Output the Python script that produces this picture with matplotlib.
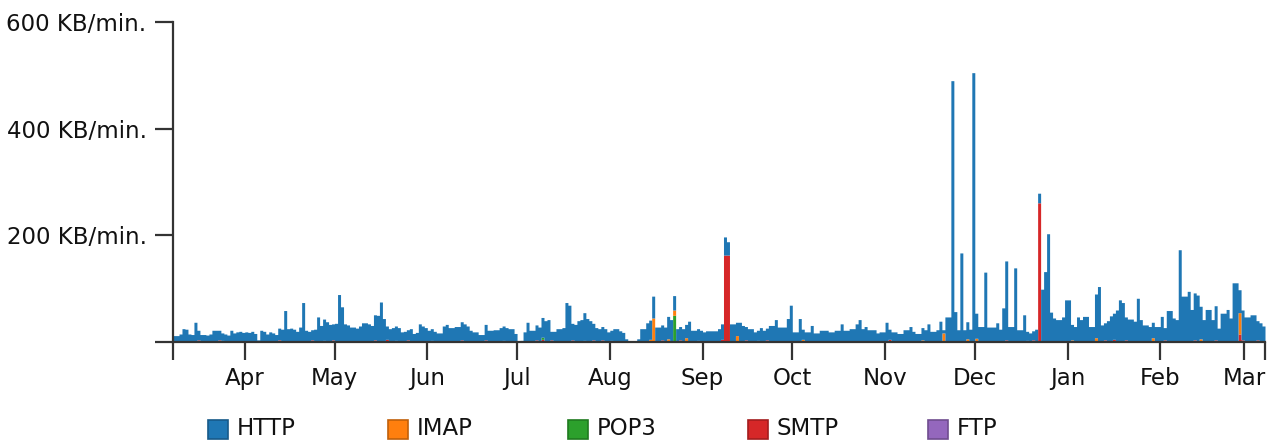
import datetime as dt

import matplotlib

matplotlib.use("Agg")
import matplotlib.dates as mdates
import matplotlib.pyplot as plt
import numpy as np
from matplotlib.patches import Rectangle

start = dt.date(2012, 3, 8)

# HTTP traffic per day (KB/min.), one value per day from start
http = [
    12, 12, 15, 25, 24, 15, 14, 37, 18, 14,
    14, 13, 15, 22, 22, 18, 14, 15, 13, 22,
    17, 19, 20, 18, 19, 18, 20, 16, 4, 22,
    20, 15, 19, 17, 14, 22, 24, 59, 25, 26,
    24, 20, 28, 74, 22, 20, 19, 24, 47, 31,
    40, 38, 33, 30, 35, 89, 66, 34, 32, 28,
    28, 26, 30, 36, 36, 34, 31, 47, 50, 75,
    44, 25, 25, 27, 27, 27, 19, 20, 19, 25,
    16, 18, 34, 30, 27, 22, 22, 20, 17, 17,
    30, 33, 27, 27, 29, 29, 34, 34, 30, 22,
    19, 19, 14, 14, 29, 22, 22, 23, 23, 27,
    27, 27, 25, 25, 16, 2, 3, 19, 37, 22,
    22, 28, 28, 37, 40, 42, 16, 20, 25, 25,
    27, 74, 69, 31, 33, 40, 42, 52, 44, 40,
    31, 27, 25, 25, 25, 19, 19, 25, 25, 21,
    18, 6, 1, 1, 1, 6, 25, 25, 36, 36,
    41, 28, 28, 28, 28, 42, 42, 27, 25, 25,
    25, 25, 39, 22, 22, 22, 22, 19, 21, 21,
    21, 21, 25, 29, 34, 25, 34, 34, 25, 37,
    31, 25, 25, 25, 19, 19, 27, 22, 22, 31,
    31, 42, 28, 28, 28, 44, 69, 19, 19, 44,
    19, 19, 19, 31, 17, 17, 22, 22, 22, 19,
    19, 22, 22, 34, 22, 22, 25, 25, 34, 42,
    25, 29, 23, 23, 23, 17, 19, 19, 37, 19,
    19, 19, 16, 16, 23, 23, 29, 20, 16, 16,
    23, 23, 34, 20, 20, 23, 39, 6, 47, 47,
    490, 57, 23, 167, 23, 32, 24, 505, 47, 29,
    29, 131, 28, 28, 28, 36, 24, 64, 148, 29,
    29, 139, 23, 23, 51, 17, 17, 17, 24, 18,
    99, 132, 203, 56, 45, 42, 42, 47, 79, 79,
    29, 29, 47, 42, 48, 48, 29, 29, 82, 104,
    32, 32, 40, 49, 49, 60, 79, 74, 43, 43,
    43, 39, 82, 42, 32, 32, 29, 29, 29, 29,
    48, 23, 59, 59, 45, 42, 173, 86, 86, 95,
    61, 88, 88, 61, 42, 61, 61, 42, 64, 26,
    54, 54, 61, 45, 111, 111, 43, 56, 47, 47,
    51, 51, 36, 36, 30,
]

# sparse series: day offsets and values
imap_days = [159, 160, 165, 167, 171, 188, 210, 250, 257, 265, 268, 300, 308, 327, 343, 356]
imap_vals = [5, 45, 6, 10, 8, 12, 5, 4, 17, 6, 7, 4, 8, 8, 6, 40]
pop3_days = [123, 167]
pop3_vals = [4, 50]
smtp_days = [8, 15, 16, 35, 46, 50, 53, 67, 71, 74, 78, 86, 96, 104, 110, 121, 123,
             126, 133, 137, 140, 143, 146, 163, 169, 175, 183, 184, 185, 191, 195,
             198, 239, 278, 285, 287, 289, 311, 314, 318, 331, 341, 348, 356, 357, 362]
smtp_vals = [4, 4, 3, 4, 4, 3, 4, 4, 5, 3, 4, 3, 4, 4, 3, 4, 5,
             4, 4, 3, 4, 4, 3, 4, 4, 3, 5, 163, 163, 4, 3,
             4, 5, 4, 3, 4, 261, 4, 5, 4, 4, 4, 4, 15, 4, 4]
ftp_days = []
ftp_vals = []

names = ["HTTP", "IMAP", "POP3", "SMTP", "FTP"]
colors = ["#1f77b4", "#ff7f0e", "#2ca02c", "#d62728", "#9467bd"]
edges = ["#175a89", "#c0600a", "#1f7a1f", "#a31d1e", "#6f4d8f"]

n = len(http)


def spread(idx, vals):
    a = np.zeros(n)
    a[idx] = vals
    return a


series = {
    "HTTP": np.array(http, dtype=float),
    "IMAP": spread(imap_days, imap_vals),
    "POP3": spread(pop3_days, pop3_vals),
    "SMTP": spread(smtp_days, smtp_vals),
    "FTP": spread(ftp_days, ftp_vals),
}

dates = [start + dt.timedelta(days=i) for i in range(n + 1)]
end = dates[-1]

fig = plt.figure(figsize=(12.69, 4.41), dpi=100)
ax = fig.add_axes([173 / 1269, 99 / 441, 1092 / 1269, 320 / 441])

# stack bottom-up: FTP, SMTP, POP3, IMAP, HTTP
base = np.zeros(n)
for name in ["FTP", "SMTP", "POP3", "IMAP", "HTTP"]:
    top = base + series[name]
    c = colors[names.index(name)]
    ax.fill_between(dates, np.append(base, base[-1]), np.append(top, top[-1]),
                    step="post", color=c, linewidth=0, zorder=1)
    base = top

ax.set_xlim(start, end)
ax.set_ylim(0, 600)

for s in ["top", "right"]:
    ax.spines[s].set_visible(False)
for s in ["left", "bottom"]:
    ax.spines[s].set_color("#333333")
    ax.spines[s].set_linewidth(1.6)
    ax.spines[s].set_zorder(3)

ax.xaxis.set_major_locator(mdates.MonthLocator())
ax.xaxis.set_major_formatter(mdates.DateFormatter("%b"))
ax.set_xticks([mdates.date2num(start), mdates.date2num(end)], minor=True)
ax.set_yticks([0, 200, 400, 600])
ax.set_yticklabels(["", "200 KB/min.", "400 KB/min.", "600 KB/min."])

ax.tick_params(which="both", direction="out", length=13, width=1.6,
               color="#333333", labelsize=16.5, labelcolor="#111111")
ax.tick_params(axis="y", pad=6)
ax.tick_params(axis="x", pad=5)

# legend row along the bottom edge
for i, (name, c, ec) in enumerate(zip(names, colors, edges)):
    x0 = 208 + 180 * i
    fig.patches.append(Rectangle((x0 / 1269, 2 / 441), 20 / 1269, 19 / 441,
                                 transform=fig.transFigure, facecolor=c,
                                 edgecolor=ec, linewidth=1.2))
    fig.text((x0 + 29) / 1269, 6 / 441, name, fontsize=16.5, color="#111111",
             va="baseline", ha="left")

fig.savefig("out.png", dpi=100)
